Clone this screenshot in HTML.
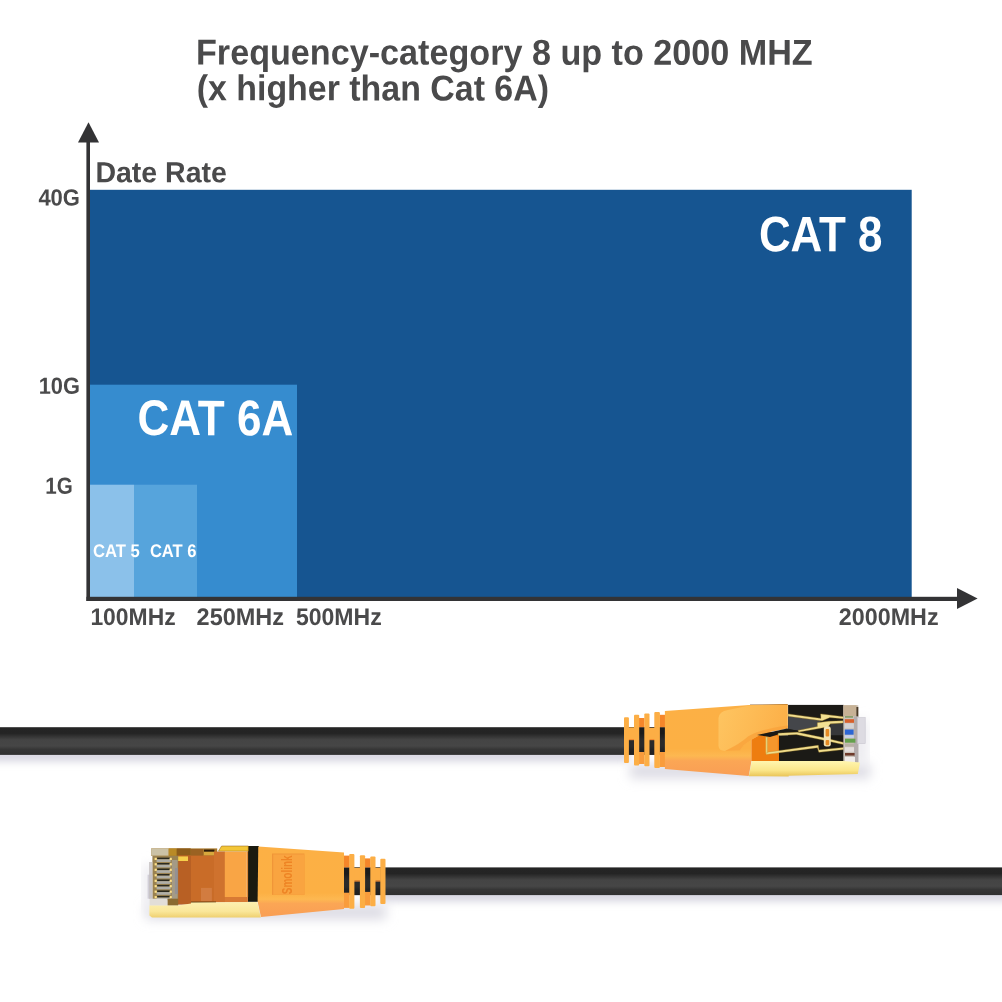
<!DOCTYPE html>
<html><head><meta charset="utf-8"><title>Frequency-category 8</title>
<style>
html,body{margin:0;padding:0;background:#fff;}
body{width:1002px;height:1002px;position:relative;overflow:hidden;font-family:"Liberation Sans",sans-serif;font-weight:bold;color:#4a4a4b;}
.t{position:absolute;white-space:nowrap;line-height:1;transform-origin:0 0;}
.r{position:absolute;}
.w{color:#fff;}
</style></head><body>
<!-- chart rects + axes -->
<svg class="r" style="left:0;top:0" width="1002" height="660" viewBox="0 0 1002 660">
<rect x="89" y="189.8" width="822.7" height="409" fill="#165591"/>
<rect x="89" y="384.7" width="208" height="214" fill="#368ccf"/>
<rect x="134" y="484.7" width="63" height="114" fill="#56a4dc"/>
<rect x="89" y="484.7" width="45" height="114" fill="#8bc1ea"/>
<rect x="86.4" y="140" width="3.6" height="461" fill="#333335"/>
<rect x="86.4" y="596.8" width="872" height="4.2" fill="#333335"/>
<polygon points="78,142.5 99,142.5 88.5,122.3" fill="#333335"/>
<polygon points="957,588 957,609 977.6,598.5" fill="#333335"/>
</svg>
<!-- text -->
<svg id="txt" class="r" style="left:0;top:0" width="1002" height="660" viewBox="0 0 1002 660" font-family="'Liberation Sans', sans-serif" font-weight="bold" fill="#4a4a4b">
<text id="t1" transform="translate(196,64.5) rotate(0.03) scale(0.949,1)" font-size="36">Frequency-category 8 up to 2000 MHZ</text>
<text id="t2" transform="translate(196.7,100.3) rotate(0.03) scale(0.942,1)" font-size="36">(x higher than Cat 6A)</text>
<text id="dr" transform="translate(95.4,182.3) rotate(0.03) scale(0.983,1)" font-size="29">Date Rate</text>
<text id="y40" transform="translate(38.4,205.5) rotate(0.03) scale(0.944,1)" font-size="23.3">40G</text>
<text id="y10" transform="translate(38.7,393.7) rotate(0.03) scale(0.936,1)" font-size="23.3">10G</text>
<text id="y1" transform="translate(45.3,493.7) rotate(0.03) scale(0.886,1)" font-size="23.3">1G</text>
<text id="c8" transform="translate(758.9,251.2) rotate(0.03) scale(0.88,1)" font-size="49.9" fill="#fff">CAT 8</text>
<text id="c6a" transform="translate(137.6,435.1) rotate(0.03) scale(0.88,1)" font-size="50" fill="#fff">CAT 6A</text>
<text id="c5" transform="translate(92.9,556.9) rotate(0.03) scale(0.912,1)" font-size="18.26" fill="#fff">CAT 5</text>
<text id="c6" transform="translate(149.9,556.9) rotate(0.03) scale(0.907,1)" font-size="18.26" fill="#fff">CAT 6</text>
<text id="x100" transform="translate(90.4,625) rotate(0.03) scale(0.954,1)" font-size="24">100MHz</text>
<text id="x250" transform="translate(196.6,625) rotate(0.03) scale(0.978,1)" font-size="24">250MHz</text>
<text id="x500" transform="translate(295.9,625) rotate(0.03) scale(0.961,1)" font-size="24">500MHz</text>
<text id="x2000" transform="translate(838.8,625) rotate(0.03) scale(0.972,1)" font-size="24">2000MHz</text>
</svg>
<!-- cables -->
<svg id="cables" class="r" style="left:0;top:660px" width="1002" height="342" viewBox="0 660 1002 342">
<defs>
<linearGradient id="cab" x1="0" y1="0" x2="0" y2="1">
<stop offset="0" stop-color="#252525"/><stop offset=".22" stop-color="#242424"/><stop offset=".45" stop-color="#444444"/><stop offset=".68" stop-color="#464646"/><stop offset=".8" stop-color="#363636"/><stop offset="1" stop-color="#303030"/>
</linearGradient>
<linearGradient id="shd" x1="0" y1="0" x2="0" y2="1">
<stop offset="0" stop-color="#dddce6"/><stop offset=".5" stop-color="#ecebf1"/><stop offset="1" stop-color="#ffffff"/>
</linearGradient>
<linearGradient id="boot" gradientUnits="userSpaceOnUse" x1="0" y1="704" x2="0" y2="776">
<stop offset="0" stop-color="#fcb045"/><stop offset=".62" stop-color="#fcb044"/><stop offset=".72" stop-color="#fdb851"/><stop offset=".79" stop-color="#fba655"/><stop offset="1" stop-color="#f99e54"/>
</linearGradient>
<linearGradient id="gold" x1="0" y1="0" x2="0" y2="1">
<stop offset="0" stop-color="#fff6b0"/><stop offset=".6" stop-color="#fbe68a"/><stop offset="1" stop-color="#e9c458"/>
</linearGradient>
<linearGradient id="latch" gradientUnits="userSpaceOnUse" x1="720" y1="712" x2="787" y2="735">
<stop offset="0" stop-color="#fec460"/><stop offset=".45" stop-color="#fdbb55"/><stop offset="1" stop-color="#fcae46"/>
</linearGradient>
<linearGradient id="boot2" gradientUnits="userSpaceOnUse" x1="0" y1="846" x2="0" y2="917">
<stop offset="0" stop-color="#fcb045"/><stop offset=".66" stop-color="#fcb044"/><stop offset=".75" stop-color="#fdb851"/><stop offset=".81" stop-color="#fba655"/><stop offset="1" stop-color="#f99e54"/>
</linearGradient>
<linearGradient id="gold2" x1="0" y1="0" x2="0" y2="1">
<stop offset="0" stop-color="#fdf0b0"/><stop offset=".6" stop-color="#fae79a"/><stop offset="1" stop-color="#efd070"/>
</linearGradient>
<filter id="bl" x="-10%" y="-150%" width="120%" height="400%"><feGaussianBlur stdDeviation="4"/></filter>
<filter id="bl2" x="-10%" y="-150%" width="120%" height="400%"><feGaussianBlur stdDeviation="6"/></filter>
</defs>
<!-- ===== top cable ===== -->
<g id="topcable">
<rect x="-20" y="750" width="650" height="11" fill="#d3d2de" filter="url(#bl)"/>
<rect x="630" y="764" width="240" height="14" fill="#dad9e2" filter="url(#bl2)"/>
<rect x="852" y="720" width="16" height="45" fill="#ecebf0" filter="url(#bl2)"/>
<rect x="0" y="727.2" width="666" height="27.7" fill="url(#cab)"/>
<rect x="626" y="727.2" width="40" height="27.7" fill="#141414" opacity=".55"/>
<!-- strain relief: dark recess pieces -->
<rect x="639" y="718" width="5.5" height="9.2" fill="#f5862a"/>
<rect x="639" y="752" width="5.5" height="12" fill="#f99c3c"/>
<rect x="659.5" y="714.8" width="6" height="12.4" fill="#f5862a"/>
<rect x="659.5" y="752" width="6" height="15" fill="#f99c3c"/>
<!-- middle bars -->
<rect x="628" y="727.4" width="7" height="11.8" fill="#fcae45"/>
<rect x="649" y="727.8" width="6" height="11.4" fill="#fcae45"/>
<rect x="628" y="739" width="7" height="1.2" fill="#f28a30"/>
<rect x="649" y="739" width="6" height="1.2" fill="#f28a30"/>
<!-- ribs -->
<rect x="624" y="717.2" width="4.9" height="45.9" rx="1" fill="#fcae45"/>
<rect x="634" y="714.8" width="5.2" height="50.7" rx="1" fill="#fcae45"/>
<rect x="644.3" y="713.6" width="5.2" height="52.7" rx="1" fill="#fcae45"/>
<rect x="654.3" y="712" width="5.6" height="55.9" rx="1" fill="#fcae45"/>
<!-- boot body -->
<polygon points="664.9,711.1 749.4,705.1 787.1,704.1 787.1,728.5 766.2,732 751.5,738.3 751.5,760.7 748.7,776 664.9,769" fill="url(#boot)"/>
<!-- inside dark orange -->
<polygon points="751.4,737 766,731.5 780,733 780,760.9 751.4,760.9" fill="#ee7d10"/>
<rect x="765" y="736" width="12.8" height="17.5" fill="#f5962c"/>
<!-- latch lighter face -->
<path d="M718.5,718 Q719,711.5 728,710 L749.4,705.6 L787.8,704.3 L787.8,728.4 Q769.9,730.9 759.9,734.9 Q751.9,738.9 743.9,744.9 L739.9,750.6 L725,750.9 Q718.9,750.9 718.5,746 Z" fill="url(#latch)"/>
<path d="M787.8,728.4 Q769.9,730.9 759.9,734.9 Q751.9,738.9 743.9,744.9 L739.9,750.6 L725,750.9 Q740,744 748,736.5 Q760,729 787.8,725.4 Z" fill="#f9a33c" opacity=".85"/>
<rect x="750" y="704.1" width="38" height=".7" fill="#6b3d10" opacity=".5"/>
<!-- black metal -->
<rect x="788.1" y="704.9" width="55.6" height="56" fill="#1b1a16"/>
<polygon points="788.1,716 821,720.6 817.4,726.6 798,730.4 788.1,729.2" fill="#44464a"/>
<polygon points="830.4,723.8 843.6,723 843.6,742.4 831,739.4" fill="#37383a"/>
<!-- black triangle under latch tip -->
<polygon points="757,735 787.1,728.5 798,731 797,733 778,734.5 770,737" fill="#1b1a16"/>
<polygon points="779,735.2 843.6,735.2 843.6,760.9 779,760.9" fill="#1b1a16"/>
<!-- gold wires -->
<g fill="#f2e092" stroke="#b8922c" stroke-width=".35">
<polygon points="788.1,713.9 821,718.4 820.7,713.9 843.6,716.7 843.6,718.7 829.8,717.5 822.1,720.8 788.1,716.2"/>
<polygon points="798,730.4 817.4,726.6 817.4,722.7 828.7,721.3 843,720.8 843,723 830.4,723.8 828.2,726.8 818.9,728.5 798.8,732"/>
<polygon points="778.2,733.2 797.4,732.3 821.6,737.3 843.6,742.4 843.6,744.6 820.5,739.5 796.3,734.5 778.2,735.4"/>
<polygon points="766,752.4 818.3,745.3 818.9,749.9 843.6,747.5 843.6,749.6 818.9,752.3 817.4,747.7 766,754.4"/>
<polygon points="766,737 767.4,737 767.4,753 766,753"/>
</g>
<rect x="823.8" y="726.3" width="7" height="20.3" rx="2.4" fill="#f3e3b4"/>
<rect x="825.6" y="729" width="3.6" height="7.5" rx="1" fill="#e58a24"/>
<rect x="825.6" y="740" width="3.6" height="5.2" rx="1" fill="#e58a24"/>
<!-- clear plastic tip -->
<rect x="843.4" y="705.2" width="14.9" height="57.8" fill="#cbc3ba"/>
<rect x="843.4" y="705.2" width="13.2" height="11" fill="#c7b296"/>
<rect x="856.4" y="707" width="1.9" height="9.6" fill="#4a3a28"/>
<rect x="853.8" y="716.5" width="4.5" height="46" fill="#b4adad"/>
<rect x="857.6" y="717.6" width="7.6" height="26" fill="#dddbe2"/>
<rect x="857.6" y="717.6" width="7.6" height="26" fill="none" stroke="#c9c6d0" stroke-width=".6"/>
<rect x="845" y="716" width="8" height="1.8" fill="#8aa070"/>
<rect x="844.8" y="719.2" width="9.2" height="3.6" fill="#d8602c"/>
<rect x="844.8" y="723.5" width="9" height="4.8" fill="#d4d2d4"/>
<rect x="844.8" y="729.5" width="8.8" height="5.2" fill="#2c66d4"/>
<rect x="844.8" y="735.4" width="9" height="2.4" fill="#c4d0ee"/>
<rect x="845" y="738.7" width="10.4" height="4" fill="#64a04c"/>
<rect x="845" y="743.6" width="9" height="3" fill="#b8b0a4"/>
<rect x="845" y="747.2" width="9" height="4.6" fill="#e4dedc"/>
<rect x="845" y="753" width="9.6" height="2.6" fill="#6e3a2a"/>
<rect x="845" y="757" width="10" height="5.6" fill="#f0ecea"/>
<!-- gold bottom -->
<polygon points="751.8,760.9 843.6,760.9 860,762.5 857.8,774 788.7,775.7 788.7,776.4 748.9,776.2" fill="url(#gold)"/>
</g>
<!-- ===== bottom cable ===== -->
<g id="botcable">
<rect x="380" y="890" width="650" height="11" fill="#d3d2de" filter="url(#bl)"/>
<rect x="146" y="905" width="240" height="14" fill="#dad9e2" filter="url(#bl2)"/>
<rect x="143" y="865" width="14" height="45" fill="#ecebf0" filter="url(#bl2)"/>
<rect x="343" y="867.4" width="659" height="27.7" fill="url(#cab)"/>
<rect x="343" y="867.4" width="40" height="27.7" fill="#141414" opacity=".55"/>
<!-- recess pieces -->
<rect x="344" y="855.6" width="5.6" height="11.8" fill="#f5862a"/>
<rect x="344" y="892.7" width="5.6" height="15.2" fill="#f99c3c"/>
<rect x="365" y="858.4" width="5.6" height="9" fill="#f5862a"/>
<rect x="365" y="891.9" width="5.6" height="13.6" fill="#f99c3c"/>
<!-- middle bars -->
<rect x="354" y="867.8" width="6.4" height="12.9" fill="#fcae45"/>
<rect x="375" y="867.8" width="5.8" height="12.9" fill="#fcae45"/>
<rect x="354" y="880.4" width="6.4" height="1.2" fill="#f28a30"/>
<rect x="375" y="880.4" width="5.8" height="1.2" fill="#f28a30"/>
<!-- ribs -->
<rect x="349.2" y="854" width="5.2" height="54.7" rx="1" fill="#fcae45"/>
<rect x="359.9" y="855.2" width="5.2" height="52.7" rx="1" fill="#fcae45"/>
<rect x="370.3" y="856.4" width="5.2" height="49.9" rx="1" fill="#fcae45"/>
<rect x="380.3" y="858.8" width="5.2" height="45.1" rx="1" fill="#fcae45"/>
<!-- black band + gold -->
<rect x="247.9" y="846" width="11" height="55.8" fill="#1a1a10"/>
<!-- boot -->
<polygon points="258.3,846.4 344,852.5 344,909 261,916.9 257.6,901.6" fill="url(#boot2)"/>
<rect x="272" y="853.5" width="32.4" height="41.4" fill="#f09638"/><rect x="273.2" y="854.5" width="31.2" height="40.4" fill="#f9a440"/>
<text transform="translate(292.2,894.2) rotate(-90) scale(.69,1)" font-family="'Liberation Sans', sans-serif" font-weight="bold" font-size="14.5" fill="#ee8424">Smolink</text>
<!-- connector body -->
<rect x="151.2" y="848.4" width="66" height="7.6" fill="#a8782c"/>
<rect x="151.2" y="848.4" width="17.5" height="7.4" fill="#cbc2a6"/>
<rect x="168.7" y="848.4" width="8" height="7.4" fill="#b98a26"/>
<rect x="176.7" y="848.4" width="14" height="7.4" fill="#8c5c1a"/>
<rect x="191" y="849" width="12" height="7" fill="#9a6222"/>
<rect x="204" y="849.6" width="10.4" height="2.2" fill="#2a1a08"/>
<rect x="204" y="851.8" width="10.4" height="3.6" fill="#d8a83c"/>
<polygon points="218.4,851.2 221.6,846 248.3,846 248.3,851.2" fill="#f3c637" stroke="#8a5a10" stroke-width=".5"/>
<rect x="178.3" y="855.6" width="46.5" height="46.6" fill="#c96c28"/>
<rect x="177.5" y="855.6" width="13.5" height="49" fill="#b86024"/>
<rect x="177.5" y="856.4" width="10.5" height="4.6" fill="#f6cf4a"/>
<rect x="214" y="851.6" width="11" height="50.6" fill="#cf722e"/>
<rect x="201" y="887.9" width="10.9" height="13.1" fill="#d27c40"/>
<rect x="224.8" y="851.6" width="21.9" height="45.4" fill="#f9a545"/>
<rect x="224.8" y="897" width="23.1" height="5.3" fill="#d87a34"/>
<rect x="246.7" y="851.6" width="1.4" height="45.4" fill="#e18b36"/>
<rect x="191" y="901.6" width="25" height="2.2" fill="#5a3a10"/>
<!-- pins -->
<rect x="152.4" y="855.8" width="25.8" height="44" fill="#9a8250"/>
<rect x="171.8" y="860" width="5.8" height="40" fill="#a49a86"/>
<rect x="175" y="868" width="3" height="26" fill="#8a8c9c" opacity=".6"/>
<rect x="157.2" y="857.6" width="12.8" height="1.7" fill="#2b2a20"/><rect x="156.6" y="859.3" width="14" height="2.7" fill="#b0afa8"/><rect x="154.6" y="857.8" width="2.2" height="2.2" fill="#ffe28a"/><rect x="169.6" y="857.8" width="2.2" height="2.2" fill="#ffe28a"/>
<rect x="157.2" y="863.0" width="12.8" height="1.7" fill="#2b2a20"/><rect x="156.6" y="864.7" width="14" height="2.7" fill="#b0afa8"/><rect x="154.6" y="863.2" width="2.2" height="2.2" fill="#ffe28a"/><rect x="169.6" y="863.2" width="2.2" height="2.2" fill="#ffe28a"/>
<rect x="157.2" y="868.5" width="12.8" height="1.7" fill="#2b2a20"/><rect x="156.6" y="870.2" width="14" height="2.7" fill="#b0afa8"/><rect x="154.6" y="868.7" width="2.2" height="2.2" fill="#ffe28a"/><rect x="169.6" y="868.7" width="2.2" height="2.2" fill="#ffe28a"/>
<rect x="157.2" y="874.0" width="12.8" height="1.7" fill="#2b2a20"/><rect x="156.6" y="875.7" width="14" height="2.7" fill="#b0afa8"/><rect x="154.6" y="874.2" width="2.2" height="2.2" fill="#ffe28a"/><rect x="169.6" y="874.2" width="2.2" height="2.2" fill="#ffe28a"/>
<rect x="157.2" y="879.5" width="12.8" height="1.7" fill="#2b2a20"/><rect x="156.6" y="881.2" width="14" height="2.7" fill="#b0afa8"/><rect x="154.6" y="879.7" width="2.2" height="2.2" fill="#ffe28a"/><rect x="169.6" y="879.7" width="2.2" height="2.2" fill="#ffe28a"/>
<rect x="157.2" y="884.9" width="12.8" height="1.7" fill="#2b2a20"/><rect x="156.6" y="886.6" width="14" height="2.7" fill="#b0afa8"/><rect x="154.6" y="885.1" width="2.2" height="2.2" fill="#ffe28a"/><rect x="169.6" y="885.1" width="2.2" height="2.2" fill="#ffe28a"/>
<rect x="157.2" y="890.4" width="12.8" height="1.7" fill="#2b2a20"/><rect x="156.6" y="892.1" width="14" height="2.7" fill="#b0afa8"/><rect x="154.6" y="890.6" width="2.2" height="2.2" fill="#ffe28a"/><rect x="169.6" y="890.6" width="2.2" height="2.2" fill="#ffe28a"/>
<rect x="157.2" y="895.9" width="12.8" height="1.7" fill="#2b2a20"/><rect x="156.6" y="897.6" width="14" height="2.7" fill="#b0afa8"/><rect x="154.6" y="896.1" width="2.2" height="2.2" fill="#ffe28a"/><rect x="169.6" y="896.1" width="2.2" height="2.2" fill="#ffe28a"/>
<rect x="147.6" y="874.7" width="4.6" height="24" fill="#d2cfd8"/>
<rect x="149" y="862" width="3.4" height="37" fill="#c4bfc0" opacity=".8"/>
<rect x="149.6" y="898.7" width="18" height="7" fill="#e2ded8"/>
<rect x="167.6" y="898.7" width="10.6" height="7" fill="#8a6a30"/>
<!-- gold bottom -->
<polygon points="149.4,905.4 178,905.4 191,903.6 191,902.6 257.3,902 260.8,917.5 152,917.5 149.4,915.4" fill="url(#gold2)"/>
</g>
</svg>
</body></html>
